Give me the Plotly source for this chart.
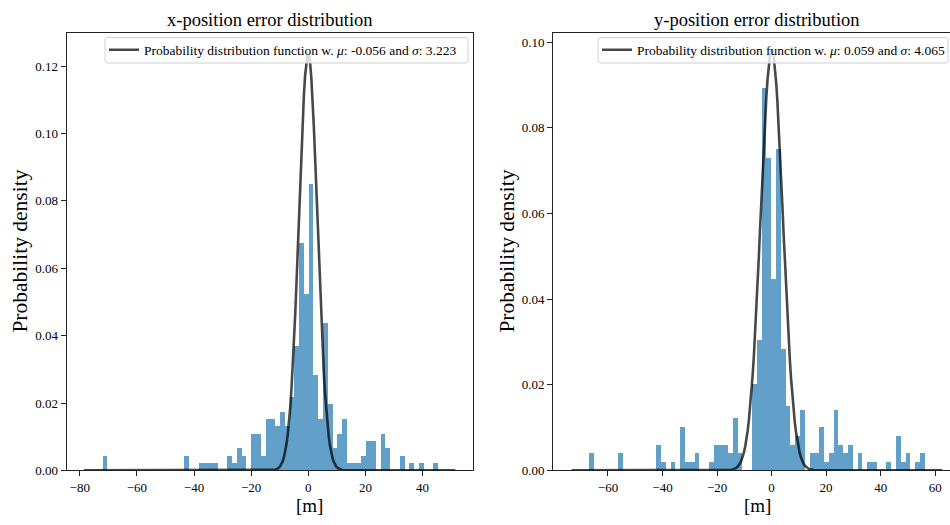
import numpy as np
import plotly.graph_objects as go

# ---------------- data ----------------
# x-position error histogram (probability density), 70 bins
x_bin_start = -72.07
x_bin_end = 45.32
x_density = [
    0.0044, 0, 0, 0, 0, 0, 0, 0, 0, 0,
    0, 0, 0, 0, 0, 0, 0, 0.0044, 0, 0,
    0.0022, 0.0022, 0.0022, 0.0022, 0, 0, 0.0044, 0.0022, 0.0066, 0.0044,
    0, 0.0109, 0.0109, 0.0044, 0.0153, 0.0153, 0.0131, 0.0175, 0.0131, 0.0218,
    0.0371, 0.0677, 0.0524, 0.0852, 0.0284, 0.0153, 0.0437, 0.0197, 0.0066, 0.0109,
    0.0153, 0.0022, 0.0022, 0.0022, 0.0044, 0.0087, 0.0087, 0, 0.0109, 0.0066,
    0, 0, 0.0044, 0, 0.0022, 0, 0.0022, 0, 0, 0.0022,
]
x_mu, x_sigma = -0.056, 3.223
x_line_range = (-78.5, 51.5)

# y-position error histogram (probability density), 70 bins
y_bin_start = -66.97
y_bin_end = 56.19
y_density = [
    0.0041, 0, 0, 0, 0, 0, 0.0041, 0, 0, 0,
    0, 0, 0, 0, 0.0061, 0.0020, 0, 0.0020, 0, 0.0102,
    0.0020, 0.0020, 0.0041, 0, 0, 0.0020, 0.0061, 0.0061, 0.0061, 0.0041,
    0.0122, 0.0041, 0, 0, 0.0203, 0.0305, 0.0893, 0.0731, 0.0447, 0.0751,
    0.0284, 0.0152, 0.0061, 0.0081, 0.0142, 0, 0.0041, 0.0041, 0.0102, 0.0020,
    0.0041, 0.0142, 0.0061, 0.0041, 0.0061, 0, 0.0041, 0, 0.0020, 0.0020,
    0, 0, 0.0020, 0, 0.0081, 0.0020, 0.0041, 0, 0.0020, 0.0041,
]
y_mu, y_sigma = 0.059, 4.065
y_line_range = (-73.3, 62.6)

titles = ["x-position error distribution", "y-position error distribution"]
x_label = "[m]"
y_label = "Probability density"
x_ticks_left = [-80, -60, -40, -20, 0, 20, 40]
x_ticks_right = [-60, -40, -20, 0, 20, 40, 60]
y_ticks_left = [0, 0.02, 0.04, 0.06, 0.08, 0.10, 0.12]
y_ticks_right = [0, 0.02, 0.04, 0.06, 0.08, 0.10]

# ---------------- figure ----------------
W, H = 950, 525
FONT = "Liberation Serif"
BAR_COLOR = "rgba(31,119,180,0.7)"
LINE_COLOR = "rgba(0,0,0,0.72)"
AX_COLOR = "#222222"


def px(x):
    return x / W


def py(y):
    return 1 - y / H


def hist_trace(start, end, dens, xa, ya):
    edges = np.linspace(start, end, len(dens) + 1)
    centers = (edges[:-1] + edges[1:]) / 2
    width = edges[1] - edges[0]
    return go.Bar(x=centers, y=dens, width=width, xaxis=xa, yaxis=ya,
                  marker=dict(color=BAR_COLOR, line=dict(width=0)),
                  showlegend=False, hoverinfo="skip")


def pdf_trace(mu, sigma, rng, xa, ya, legend):
    xs = np.linspace(rng[0], rng[1], 300)
    ys = np.exp(-0.5 * ((xs - mu) / sigma) ** 2) / (sigma * np.sqrt(2 * np.pi))
    name = ("Probability distribution function w. <i>μ</i>: %s and <i>σ</i>: %s"
            % (f"{mu:.3f}", f"{sigma:.3f}"))
    return go.Scatter(x=xs, y=ys, mode="lines", xaxis=xa, yaxis=ya,
                      line=dict(color=LINE_COLOR, width=2.6), name=name,
                      legend=legend, showlegend=True, hoverinfo="skip")


def rounded_box(x0, y0, x1, y1, r=3):
    X = lambda v: px(v)
    Y = lambda v: py(v)
    return (f"M {X(x0 + r)},{Y(y0)} L {X(x1 - r)},{Y(y0)} "
            f"Q {X(x1)},{Y(y0)} {X(x1)},{Y(y0 + r)} L {X(x1)},{Y(y1 - r)} "
            f"Q {X(x1)},{Y(y1)} {X(x1 - r)},{Y(y1)} L {X(x0 + r)},{Y(y1)} "
            f"Q {X(x0)},{Y(y1)} {X(x0)},{Y(y1 - r)} L {X(x0)},{Y(y0 + r)} "
            f"Q {X(x0)},{Y(y0)} {X(x0 + r)},{Y(y0)} Z")


fig = go.Figure()
fig.add_trace(hist_trace(x_bin_start, x_bin_end, x_density, "x", "y"))
fig.add_trace(pdf_trace(x_mu, x_sigma, x_line_range, "x", "y", "legend"))
fig.add_trace(hist_trace(y_bin_start, y_bin_end, y_density, "x2", "y2"))
fig.add_trace(pdf_trace(y_mu, y_sigma, y_line_range, "x2", "y2", "legend2"))

ax_common = dict(showline=True, linecolor=AX_COLOR, linewidth=1,
                 ticks="outside", ticklen=5, tickwidth=1, tickcolor=AX_COLOR,
                 showgrid=False, zeroline=False,
                 tickfont=dict(family=FONT, size=13, color="black"))

legend_common = dict(xanchor="left", yanchor="top",
                     bgcolor="rgba(0,0,0,0)", borderwidth=0,
                     font=dict(family=FONT, size=13.5, color="black"),
                     itemwidth=30)

ydom = [py(477.7), py(33.3)]
fig.update_layout(
    width=W, height=H,
    margin=dict(l=0, r=0, t=0, b=0),
    paper_bgcolor="white", plot_bgcolor="white",
    barmode="overlay", bargap=0, hovermode=False,
    font=dict(family=FONT, color="black"),
    xaxis=dict(domain=[px(66.7), px(472.7)], range=[-84.56, 57.55],
               tickvals=x_ticks_left, mirror=True, anchor="y", **ax_common),
    yaxis=dict(domain=ydom, range=[0, 0.1299], tickvals=y_ticks_left,
               tickformat=".2f", mirror=True, anchor="x", **ax_common),
    xaxis2=dict(domain=[px(553), 1.0], range=[-80.17, 65.44],
                tickvals=x_ticks_right, mirror=True, anchor="y2", **ax_common),
    yaxis2=dict(domain=ydom, range=[0, 0.1022], tickvals=y_ticks_right,
                tickformat=".2f", mirror=False, anchor="x2", **ax_common),
    legend=dict(x=px(104), y=py(35), **legend_common),
    legend2=dict(x=px(597), y=py(35), **legend_common),
)

for (bx0, bx1) in [(105, 468), (598, 948)]:
    fig.add_shape(type="path", path=rounded_box(bx0, 38, bx1, 64),
                  xref="paper", yref="paper", layer="above",
                  fillcolor="rgba(255,255,255,0.8)",
                  line=dict(color="#d0d0d0", width=1))

annots = [
    dict(text=titles[0], x=px(269.7), y=py(20), size=18.5, angle=0),
    dict(text=titles[1], x=px(757), y=py(20), size=18.5, angle=0),
    dict(text=y_label, x=px(20), y=py(255.5), size=21.5, angle=-90),
    dict(text=y_label, x=px(507), y=py(255.5), size=21.5, angle=-90),
    dict(text=x_label, x=px(309), y=py(513), size=19, angle=0),
    dict(text=x_label, x=px(757), y=py(513), size=19, angle=0),
]
for a in annots:
    fig.add_annotation(text=a["text"], x=a["x"], y=a["y"], xref="paper",
                       yref="paper", xanchor="center", yanchor="middle",
                       showarrow=False, textangle=a["angle"],
                       font=dict(family=FONT, size=a["size"], color="black"))

fig.write_html("out.html", config={"displayModeBar": False},
               post_script="document.body.style.margin='0px';")
